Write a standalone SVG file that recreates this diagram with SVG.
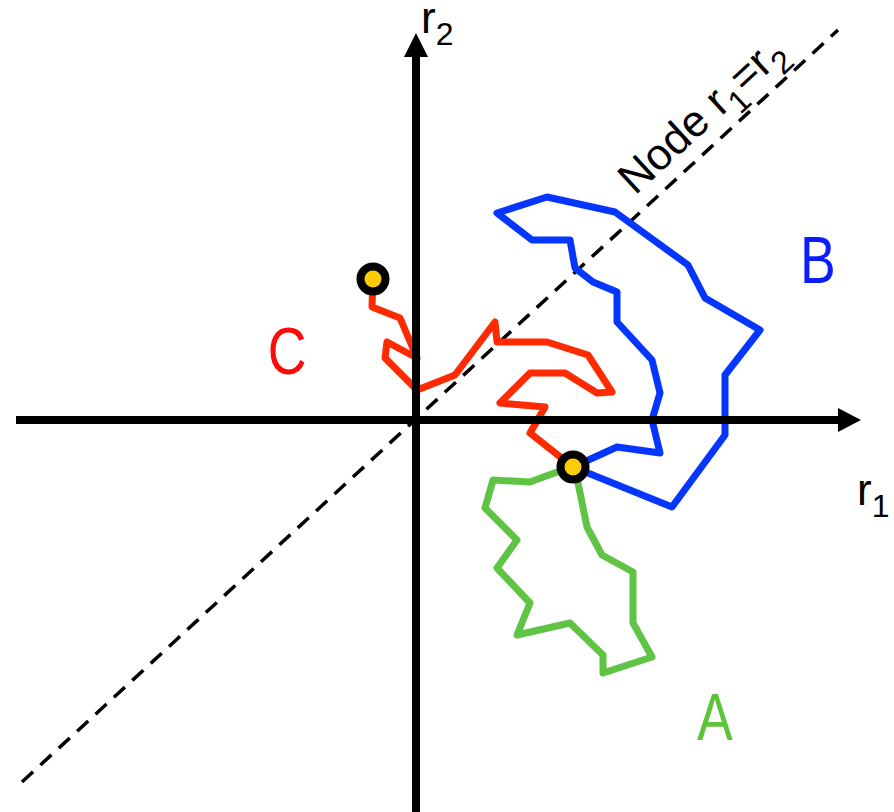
<svg xmlns="http://www.w3.org/2000/svg" width="894" height="812" viewBox="0 0 894 812">
<style>
.axis{stroke:#000;stroke-width:8;fill:none}
.diag{stroke:#000;stroke-width:3.5;stroke-dasharray:15 10;fill:none}
.walk{fill:none;stroke-width:7;stroke-linejoin:round;stroke-linecap:butt}
.lbl{font-family:"Liberation Sans",Arial,sans-serif;fill:#000}
.big{font-family:"Comic Sans MS","Liberation Sans",sans-serif;font-size:67px;text-anchor:middle}
.pt{fill:#FFCC00;stroke:#000;stroke-width:8}
</style>
<rect width="894" height="812" fill="#fff"/>
<g id="connectors">
<line id="diagonal" class="diag" x1="22" y1="782" x2="838" y2="30"/>
<polyline id="pathB" class="walk" stroke="#0536FF" points="573,467 617,447 660,453 652,420 660,393 652,360 617,322 617,292 593,282 575,268 570,240 532,240 497,213 547,197 615,212 688,265 705,298 760,330 725,375 725,435 672,507 573,467"/>
<polyline id="pathC" class="walk" stroke="#FF2A00" points="373,278 372,307 400,318 417,358 387,342 385,358 417,390 455,375 495,322 497,342 547,342 588,355 612,392 597,393 565,373 530,373 500,403 545,407 530,433 573,467"/>
<polyline id="pathA" class="walk" stroke="#5FC444" points="573,467 557,472 530,482 493,480 485,508 517,540 497,568 530,603 517,635 570,623 603,655 603,673 652,657 633,623 633,572 602,555 587,527 578,483 573,467"/>
<line id="axis-r1" class="axis" x1="16" y1="420" x2="840" y2="420"/>
<polygon points="861,420 838,408 838,432" fill="#000"/>
<line id="axis-r2" class="axis" x1="416" y1="812" x2="416" y2="55"/>
<polygon points="416,33 404,57 428,57" fill="#000"/>
</g>
<g id="start-point"><circle class="pt" cx="373" cy="279" r="12.5"/></g>
<g id="end-point"><circle class="pt" cx="573" cy="467" r="12.5"/></g>
<g id="label-r2"><text class="lbl" x="421" y="33" font-size="44">r<tspan font-size="32" dy="12">2</tspan></text></g>
<g id="label-r1"><text class="lbl" x="857" y="505" font-size="44">r<tspan font-size="32" dy="12">1</tspan></text></g>
<g id="label-node"><text class="lbl" font-size="44" transform="translate(635,196) rotate(-42.66)">Node r<tspan font-size="32" dy="12">1</tspan><tspan dy="-12">=r</tspan><tspan font-size="32" dy="12">2</tspan></text></g>
<g id="label-A"><text class="big" fill="#5DC43A" transform="translate(715,740) scale(0.8,1)">A</text></g>
<g id="label-B"><text class="big" fill="#0A1EFF" transform="translate(818,283) scale(0.8,1)">B</text></g>
<g id="label-C"><text class="big" fill="#FF0A0A" transform="translate(287,374) scale(0.8,1)">C</text></g>
</svg>
